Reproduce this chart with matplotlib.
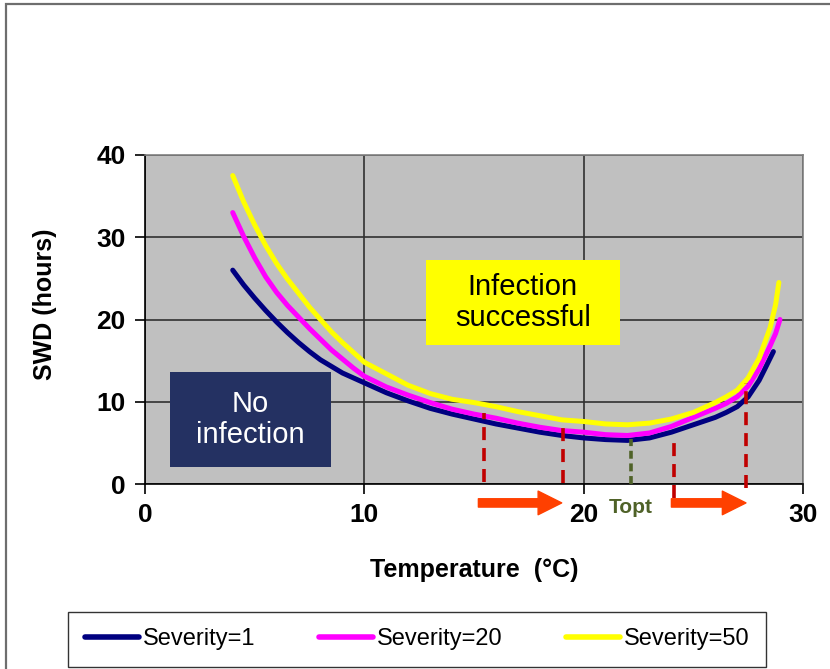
import numpy as np
import matplotlib
matplotlib.use('Agg')
from matplotlib import pyplot as plt
from matplotlib.patches import Rectangle

plt.rcParams['font.family'] = ['Liberation Sans', 'DejaVu Sans']

# curve readings, temperature (C) vs SWD (hours)
temp_sev1 = [4, 4.5, 5, 5.5, 6, 6.5, 7, 7.5, 8, 8.5, 9, 9.5, 10, 11, 12, 13, 14,
             15, 16, 17, 18, 19, 20, 21, 22, 23, 24, 25, 26, 26.5, 27, 27.5,
             28, 28.3, 28.65]
swd_sev1 = [26.0, 24.2, 22.6, 21.1, 19.7, 18.4, 17.2, 16.1, 15.1, 14.3, 13.5,
            12.9, 12.3, 11.1, 10.1, 9.2, 8.5, 7.9, 7.3, 6.8, 6.3, 5.9, 5.6, 5.4,
            5.3, 5.6, 6.3, 7.2, 8.1, 8.7, 9.4, 10.6, 12.6, 14.2, 16.1]

temp_sev20 = [4, 4.5, 5, 5.5, 6, 6.5, 7, 7.5, 8, 8.5, 9, 9.5, 10, 11, 12, 13,
              14, 15, 16, 17, 18, 19, 20, 21, 22, 23, 24, 25, 26, 26.5, 27,
              27.5, 28, 28.5, 28.75, 28.95]
swd_sev20 = [33.0, 30.1, 27.5, 25.2, 23.3, 21.7, 20.3, 18.9, 17.6, 16.3, 15.2,
             14.1, 13.1, 11.8, 10.8, 9.9, 9.1, 8.5, 8.0, 7.4, 6.9, 6.5, 6.3, 6.0,
             5.9, 6.2, 7.0, 8.1, 9.2, 9.8, 10.6, 11.9, 14.0, 16.8, 18.3, 20.0]

temp_sev50 = [4, 4.5, 5, 5.5, 6, 6.5, 7, 7.5, 8, 8.5, 9, 9.5, 10, 11, 12, 13,
              14, 15, 16, 17, 18, 19, 20, 21, 22, 23, 24, 25, 26, 26.5, 27,
              27.5, 28, 28.5, 28.75, 28.9]
swd_sev50 = [37.5, 34.3, 31.5, 29.0, 26.8, 24.9, 23.2, 21.5, 20.0, 18.5, 17.2,
             16.0, 14.8, 13.4, 12.0, 11.0, 10.3, 9.9, 9.4, 8.8, 8.3, 7.8, 7.6,
             7.3, 7.2, 7.4, 7.9, 8.7, 9.9, 10.6, 11.4, 12.9, 15.3, 19.0, 21.8,
             24.5]

series_labels = ['Severity=1', 'Severity=20', 'Severity=50']
series_colors = ['#000080', '#FF00FF', '#FFFF00']

# red dashed marks (temperature, top, bottom)
mark_temps = [15.45, 19.05, 24.1, 27.4]
mark_tops = [8.6, 7.0, 5.6, 12.3]
mark_bottoms = [0.2, 0.1, -1.7, -0.5]

topt_temp = 22.15
topt_top = 5.5

# arrows (start, end) in temperature
arrow_starts = [15.2, 24.0]
arrow_ends = [19.0, 27.4]
arrow_level = -2.3

fig = plt.figure(figsize=(8.3, 6.69), dpi=100)
ax = fig.add_axes([145/830, 1 - 484/669, 658/830, 329/669])
ax.set_facecolor('#C0C0C0')

# outer frame of the chart
fig.patches.append(Rectangle((6/830, -0.2), 1.2, 1 - 4/669 + 0.2, transform=fig.transFigure,
                             fill=False, edgecolor='#6E6E6E', lw=1.6))

for tt, yy, lab, col in zip([temp_sev1, temp_sev20, temp_sev50],
                            [swd_sev1, swd_sev20, swd_sev50],
                            series_labels, series_colors):
    ax.plot(tt, yy, color=col, lw=3.6, label=lab, zorder=4,
            solid_capstyle='round', solid_joinstyle='round')

ax.set_xlim(0, 30)
ax.set_ylim(0, 40)
ax.set_xticks([0, 10, 20, 30])
ax.set_yticks([0, 10, 20, 30, 40])
ax.grid(True, color='#303030', lw=1.2, zorder=1)
ax.set_axisbelow(True)
for s in ['left', 'bottom']:
    ax.spines[s].set_color('black')
    ax.spines[s].set_linewidth(1.2)
for s in ['top', 'right']:
    ax.spines[s].set_color('#808080')
    ax.spines[s].set_linewidth(1.2)
ax.tick_params(axis='both', direction='out', length=7, width=1.2, labelsize=19, pad=7)
for lbl in ax.get_xticklabels() + ax.get_yticklabels():
    lbl.set_fontweight('bold')

ax.set_xlabel('Temperature  (°C)', fontsize=18, fontweight='bold')
ax.set_ylabel('SWD (hours)', fontsize=18, fontweight='bold')
ax.xaxis.set_label_coords(0.5, -0.225)
ax.yaxis.set_label_coords(-0.134, 0.545)

# text boxes
ax.add_patch(Rectangle((1.14, 2.07), 7.34, 11.53, facecolor='#243162', edgecolor='none', zorder=3))
ax.text(4.81, 7.85, 'No\ninfection', color='white', fontsize=21, ha='center', va='center',
        zorder=5, linespacing=1.1)
ax.add_patch(Rectangle((12.81, 16.9), 8.85, 10.33, facecolor='#FFFF00', edgecolor='none', zorder=3))
ax.text(17.23, 22.07, 'Infection\nsuccessful', color='black', fontsize=21, ha='center', va='center',
        zorder=5, linespacing=1.1)

# dashed markers
for x, y1, y0 in zip(mark_temps, mark_tops, mark_bottoms):
    ax.plot([x, x], [y0, y1], color='#C00000', lw=2.6, ls=(0, (3.6, 2.2)), zorder=5, clip_on=False)
ax.plot([topt_temp, topt_temp], [0, topt_top], color='#4F6228', lw=2.6, ls=(0, (2.2, 1.3)), zorder=5)
ax.text(topt_temp, -2.8, 'Topt', color='#4F6228', fontsize=15, fontweight='bold',
        ha='center', va='center', clip_on=False)

for x0, x1 in zip(arrow_starts, arrow_ends):
    ax.annotate('', xy=(x1, arrow_level), xytext=(x0, arrow_level), annotation_clip=False,
                arrowprops=dict(arrowstyle='simple,head_length=0.85,head_width=0.85,tail_width=0.3',
                                mutation_scale=20, color='#FF4000', shrinkA=0, shrinkB=0))

leg = fig.legend(loc='center', bbox_to_anchor=(417/830, 1 - 639.5/669), ncol=3, fontsize=17,
                 frameon=True, fancybox=False, edgecolor='black', handlelength=2.3,
                 handletextpad=0.15, columnspacing=2.7, borderpad=0.7)
leg.get_frame().set_linewidth(1.0)
for h in leg.get_lines():
    h.set_linewidth(4)

plt.savefig('out.png', dpi=100)
